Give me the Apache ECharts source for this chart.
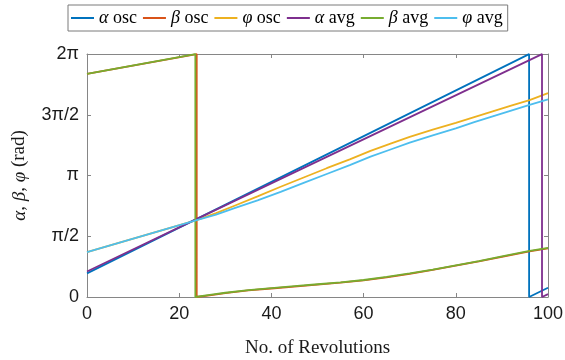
<!DOCTYPE html>
<html><head><meta charset="utf-8">
<script src="https://cdn.jsdelivr.net/npm/echarts@6/dist/echarts.min.js"></script>
<style>html,body{margin:0;padding:0;background:#fff}#c{width:565px;height:360px}</style>
</head><body><div id="c"></div>
<script>
// ---- data (radians vs. number of revolutions) ----
const xTicks = [0, 20, 40, 60, 80, 100];
const yTickLabels = ['0', 'π/2', 'π', '3π/2', '2π'];

const alphaOscX = [0, 23.5, 95.9, 95.9, 100];
const alphaOscY = [0.61, 2.0, 6.28, 0, 0.24];

const betaOscX = [0, 23.8, 23.8, 27, 30, 35, 40, 45, 50, 55, 60, 65, 70, 75, 80, 85, 90, 96, 100];
const betaOscY = [5.77, 6.28, 0, 0.05, 0.10, 0.17, 0.22, 0.27, 0.32, 0.37, 0.43, 0.51, 0.60, 0.70, 0.81, 0.92, 1.04, 1.18, 1.26];

const phiOscX = [0, 23.8, 28, 32, 37, 42, 47, 52, 57, 61.5, 66, 70, 75, 80, 84, 88, 92, 96, 100];
const phiOscY = [1.16, 1.99, 2.17, 2.36, 2.60, 2.85, 3.09, 3.33, 3.56, 3.78, 3.97, 4.14, 4.33, 4.50, 4.65, 4.80, 4.95, 5.09, 5.27];

const alphaAvgX = [0, 23.5, 98.7, 98.7, 100];
const alphaAvgY = [0.66, 2.0, 6.28, 0, 0.075];

const betaAvgX = [0, 23.5, 23.5, 27, 30, 35, 40, 45, 50, 55, 60, 65, 70, 75, 80, 85, 90, 96, 100];
const betaAvgY = [5.77, 6.28, 0, 0.06, 0.11, 0.18, 0.23, 0.28, 0.33, 0.38, 0.44, 0.52, 0.61, 0.71, 0.82, 0.93, 1.05, 1.19, 1.27];

const phiAvgX = [0, 23.8, 28, 32, 37, 42, 47, 52, 57, 61.5, 66, 70, 75, 80, 84, 88, 92, 96, 100];
const phiAvgY = [1.16, 1.99, 2.13, 2.30, 2.50, 2.72, 2.95, 3.18, 3.41, 3.63, 3.82, 3.99, 4.18, 4.36, 4.52, 4.67, 4.82, 4.97, 5.11];

const names = ['α osc', 'β osc', 'φ osc', 'α avg', 'β avg', 'φ avg'];
const colors = ['#0072BD', '#D95319', '#EDB120', '#7E2F8E', '#77AC30', '#4DBEEE'];
const xs = [alphaOscX, betaOscX, phiOscX, alphaAvgX, betaAvgX, phiAvgX];
const ys = [alphaOscY, betaOscY, phiOscY, alphaAvgY, betaAvgY, phiAvgY];

const zip = (a, b) => a.map((v, i) => [v, b[i]]);
const HALF = Math.PI / 2;
const axisGray = '#868686';
const sans = '"Liberation Sans", Arial, sans-serif';
const serif = '"Liberation Serif", "DejaVu Serif", serif';

const chart = echarts.init(document.getElementById('c'), null, {renderer: 'canvas'});
const valueAxisCommon = {
  axisLine: {show: true, onZero: false, lineStyle: {color: axisGray, width: 1}},
  axisTick: {show: true, inside: true, length: 4, lineStyle: {color: axisGray}},
  splitLine: {show: false},
  minorTick: {show: false}
};
chart.setOption({
  animation: false,
  backgroundColor: '#fff',
  color: colors,
  grid: {left: 87, right: 17, top: 54, bottom: 63, containLabel: false, outerBoundsMode: 'none'},
  legend: {
    data: names,
    left: 68, top: 5,
    orient: 'horizontal',
    padding: [4, 5, 4, 3],
    itemGap: 6,
    itemWidth: 23, itemHeight: 2,
    icon: 'rect',
    borderColor: '#7a7a7a', borderWidth: 1,
    backgroundColor: '#fff',
    formatter: function (n) {
      const parts = n.split(' ');
      return '{i|' + parts[0] + '} {t|' + parts[1] + '}';
    },
    textStyle: {
      color: '#000', fontFamily: serif, fontSize: 18,
      rich: {
        i: {fontStyle: 'italic', fontFamily: serif, fontSize: 18, color: '#000'},
        t: {fontFamily: serif, fontSize: 18, color: '#000'}
      }
    }
  },
  xAxis: [
    Object.assign({}, valueAxisCommon, {
      type: 'value', position: 'bottom', min: 0, max: 100, interval: 20,
      axisLabel: {color: '#1a1a1a', fontFamily: sans, fontSize: 18, margin: 8},
      name: 'No. of Revolutions', nameLocation: 'middle', nameGap: 42,
      nameTextStyle: {color: '#1a1a1a', fontFamily: serif, fontSize: 19}
    }),
    Object.assign({}, valueAxisCommon, {
      type: 'value', position: 'top', min: 0, max: 100, interval: 20,
      axisLabel: {show: false}
    })
  ],
  yAxis: [
    Object.assign({}, valueAxisCommon, {
      type: 'value', position: 'left', min: 0, max: 2 * Math.PI, interval: HALF,
      axisLabel: {
        color: '#1a1a1a', fontFamily: sans, fontSize: 18, margin: 8,
        formatter: function (v) { return yTickLabels[Math.round(v / HALF)]; }
      },
      name: '{i|α}, {i|β}, {i|φ} (rad)', nameLocation: 'middle', nameGap: 58, nameRotate: 90,
      nameTextStyle: {
        color: '#1a1a1a', fontFamily: serif, fontSize: 19,
        rich: {i: {fontStyle: 'italic', fontFamily: serif, fontSize: 19, color: '#1a1a1a'}}
      }
    }),
    Object.assign({}, valueAxisCommon, {
      type: 'value', position: 'right', min: 0, max: 2 * Math.PI, interval: HALF,
      axisLabel: {show: false}
    })
  ],
  series: names.map((n, k) => ({
    name: n, type: 'line', xAxisIndex: 0, yAxisIndex: 0,
    data: zip(xs[k], ys[k]),
    symbol: 'none', showSymbol: false,
    smooth: false,
    lineStyle: {width: 1.8, color: colors[k]},
    itemStyle: {color: colors[k]},
    clip: true
  }))
});
</script></body></html>
